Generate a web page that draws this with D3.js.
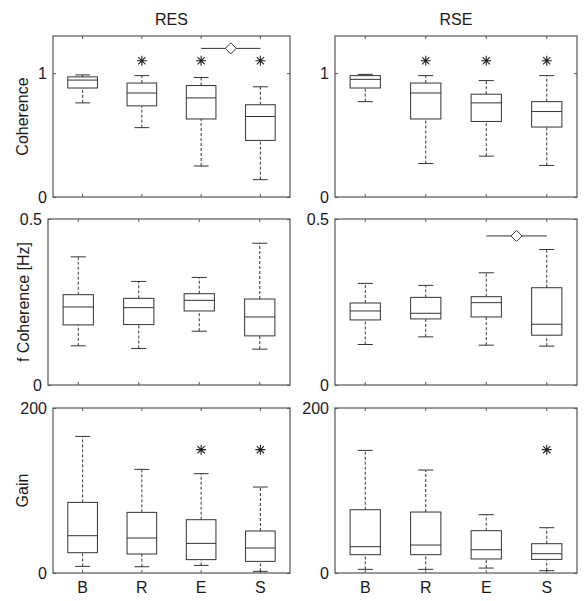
<!DOCTYPE html>
<html>
<head>
<meta charset="utf-8">
<script src="https://cdn.jsdelivr.net/npm/d3@7"></script>
<style>
  html, body { margin: 0; padding: 0; background: #fff; }
  svg { display: block; font-family: "Liberation Sans", Arial, sans-serif; }
</style>
</head>
<body>
<svg id="chart" width="588" height="601"></svg>
<script>
// ---------- data ----------
const categories = ["B", "R", "E", "S"];
const groups = ["RES", "RSE"];
const measures = ["Coherence", "f Coherence [Hz]", "Gain"];
const yMax = [1.3, 0.5, 200];
const yTicks = [[0, 1], [0, 0.5], [0, 200]];

// box stats per category: [lower whisker, Q1, median, Q3, upper whisker]
const resCoherence = [[0.76, 0.88, 0.944, 0.97, 0.986], [0.56, 0.736, 0.84, 0.92, 0.98], [0.25, 0.63, 0.80, 0.90, 0.965], [0.14, 0.457, 0.65, 0.745, 0.89]];
const rseCoherence = [[0.77, 0.88, 0.95, 0.98, 0.99], [0.27, 0.63, 0.84, 0.92, 0.98], [0.33, 0.61, 0.76, 0.83, 0.94], [0.255, 0.565, 0.69, 0.77, 0.98]];
const resFreq = [[0.118, 0.181, 0.235, 0.272, 0.386], [0.11, 0.182, 0.233, 0.261, 0.312], [0.162, 0.223, 0.255, 0.275, 0.324], [0.108, 0.148, 0.205, 0.259, 0.427]];
const rseFreq = [[0.122, 0.196, 0.223, 0.247, 0.306], [0.145, 0.199, 0.216, 0.264, 0.30], [0.12, 0.205, 0.248, 0.266, 0.338], [0.117, 0.15, 0.183, 0.293, 0.408]];
const resGain = [[8, 24.6, 45.2, 85.6, 165.6], [7.6, 23, 42.4, 73.5, 125.6], [9.2, 16.2, 35.9, 64.6, 120.4], [2, 14.1, 30.3, 50.9, 104.2]];
const rseGain = [[4.4, 22.2, 31.9, 76.7, 148.6], [4.4, 22.2, 33.9, 73.9, 124.8], [6, 17, 28.2, 51.3, 70.7], [2.8, 16.5, 23.4, 35.5, 54.9]];

// significance asterisks (value where drawn, null = none)
const resCoherenceStars = [null, 1.1, 1.1, 1.1];
const rseCoherenceStars = [null, 1.1, 1.1, 1.1];
const resFreqStars = [null, null, null, null];
const rseFreqStars = [null, null, null, null];
const resGainStars = [null, null, 149.5, 149.5];
const rseGainStars = [null, null, null, 149.5];

// significance bars with diamond: [from, to, value]
const resCoherenceSig = [["E", "S", 1.2]];
const rseCoherenceSig = [];
const resFreqSig = [];
const rseFreqSig = [["E", "S", 0.449]];
const resGainSig = [];
const rseGainSig = [];

const panelStats = [[resCoherence, rseCoherence], [resFreq, rseFreq], [resGain, rseGain]];
const panelStars = [[resCoherenceStars, rseCoherenceStars], [resFreqStars, rseFreqStars], [resGainStars, rseGainStars]];
const panelSig = [[resCoherenceSig, rseCoherenceSig], [resFreqSig, rseFreqSig], [resGainSig, rseGainSig]];

// ---------- layout ----------
const rowY = [[36, 197], [219, 385], [408, 573]];
const colX = [
  [[53, 290], [48, 290], [53, 290]],
  [[335, 577], [335, 577], [335, 577]]
];
const frameColor = "#555";
const boxColor = "#333";
const textColor = "#1a1a1a";
const fontSize = 16;

const svg = d3.select("#chart");

groups.forEach((g, c) => {
  svg.append("text")
    .attr("x", (colX[c][0][0] + colX[c][0][1]) / 2)
    .attr("y", 25)
    .attr("text-anchor", "middle")
    .attr("font-size", fontSize)
    .attr("fill", textColor)
    .text(g);
});

measures.forEach((m, r) => {
  const yMid = (rowY[r][0] + rowY[r][1]) / 2;
  svg.append("text")
    .attr("transform", `translate(${r === 1 ? 29 : 28},${yMid}) rotate(-90)`)
    .attr("text-anchor", "middle")
    .attr("font-size", fontSize)
    .attr("fill", textColor)
    .text(m);

  groups.forEach((g, c) => {
    const [x0, x1] = colX[c][r];
    const [y0, y1] = rowY[r];
    const x = d3.scaleBand().domain(categories).range([x0, x1]).paddingInner(0).paddingOuter(0);
    const y = d3.scaleLinear().domain([0, yMax[r]]).range([y1, y0]);
    const bw = x.bandwidth();
    const cx = d => x(d) + bw / 2;
    const boxW = bw / 2;
    const capW = bw / 4;
    const p = svg.append("g");

    // axes (inward ticks)
    const left = p.append("g").attr("transform", `translate(${x0},0)`)
      .call(d3.axisLeft(y).tickValues(yTicks[r]).tickSize(-3).tickPadding(6).tickFormat(d3.format("")));
    const right = p.append("g").attr("transform", `translate(${x1},0)`)
      .call(d3.axisRight(y).tickValues(yTicks[r]).tickSize(-3).tickFormat(""));
    const bottom = p.append("g").attr("transform", `translate(0,${y1})`)
      .call(d3.axisBottom(x).tickSize(-3).tickPadding(9).tickFormat(r === 2 ? (d => d) : ""));
    const top = p.append("g").attr("transform", `translate(0,${y0})`)
      .call(d3.axisTop(x).tickSize(-3).tickFormat(""));
    [left, right, bottom, top].forEach(a => {
      a.select(".domain").remove();
      a.selectAll("line").attr("stroke", frameColor);
      a.selectAll("text").attr("font-size", fontSize).attr("fill", textColor)
        .attr("font-family", "'Liberation Sans', Arial, sans-serif");
    });

    // frame
    p.append("rect")
      .attr("x", x0).attr("y", y0)
      .attr("width", x1 - x0).attr("height", y1 - y0)
      .attr("fill", "none").attr("stroke", frameColor).attr("stroke-width", 1.2);

    const data = panelStats[r][c].map((s, i) => ({ cat: categories[i], s }));
    const boxes = p.selectAll("g.box").data(data).enter().append("g").attr("class", "box");

    // whiskers (dashed)
    boxes.append("line")
      .attr("x1", d => cx(d.cat)).attr("x2", d => cx(d.cat))
      .attr("y1", d => y(d.s[3])).attr("y2", d => y(d.s[4]))
      .attr("stroke", boxColor).attr("stroke-dasharray", "3,2");
    boxes.append("line")
      .attr("x1", d => cx(d.cat)).attr("x2", d => cx(d.cat))
      .attr("y1", d => y(d.s[0])).attr("y2", d => y(d.s[1]))
      .attr("stroke", boxColor).attr("stroke-dasharray", "3,2");
    // caps
    [0, 4].forEach(k => {
      boxes.append("line")
        .attr("x1", d => cx(d.cat) - capW / 2).attr("x2", d => cx(d.cat) + capW / 2)
        .attr("y1", d => y(d.s[k])).attr("y2", d => y(d.s[k]))
        .attr("stroke", boxColor);
    });
    // box
    boxes.append("rect")
      .attr("x", d => cx(d.cat) - boxW / 2)
      .attr("y", d => y(d.s[3]))
      .attr("width", boxW)
      .attr("height", d => y(d.s[1]) - y(d.s[3]))
      .attr("fill", "#fff").attr("stroke", boxColor);
    // median
    boxes.append("line")
      .attr("x1", d => cx(d.cat) - boxW / 2).attr("x2", d => cx(d.cat) + boxW / 2)
      .attr("y1", d => y(d.s[2])).attr("y2", d => y(d.s[2]))
      .attr("stroke", boxColor);

    // asterisks
    const stars = panelStars[r][c].map((v, i) => ({ cat: categories[i], v })).filter(d => d.v !== null);
    const a = 5, b = 3.6;
    p.selectAll("path.star").data(stars).enter().append("path")
      .attr("class", "star")
      .attr("transform", d => `translate(${cx(d.cat)},${y(d.v)})`)
      .attr("d", `M${-a},0H${a}M0,${-a}V${a}M${-b},${-b}L${b},${b}M${-b},${b}L${b},${-b}`)
      .attr("stroke", "#222").attr("stroke-width", 1.1).attr("fill", "none");

    // significance bar with diamond
    panelSig[r][c].forEach(([f, t, v]) => {
      const xa = cx(f), xb = cx(t), yy = y(v), xm = (xa + xb) / 2, h = 5.5;
      p.append("line").attr("x1", xa).attr("x2", xb).attr("y1", yy).attr("y2", yy)
        .attr("stroke", boxColor);
      p.append("path")
        .attr("d", `M${xm - h},${yy}L${xm},${yy - h}L${xm + h},${yy}L${xm},${yy + h}Z`)
        .attr("fill", "#fff").attr("stroke", boxColor);
    });
  });
});
</script>
</body>
</html>
